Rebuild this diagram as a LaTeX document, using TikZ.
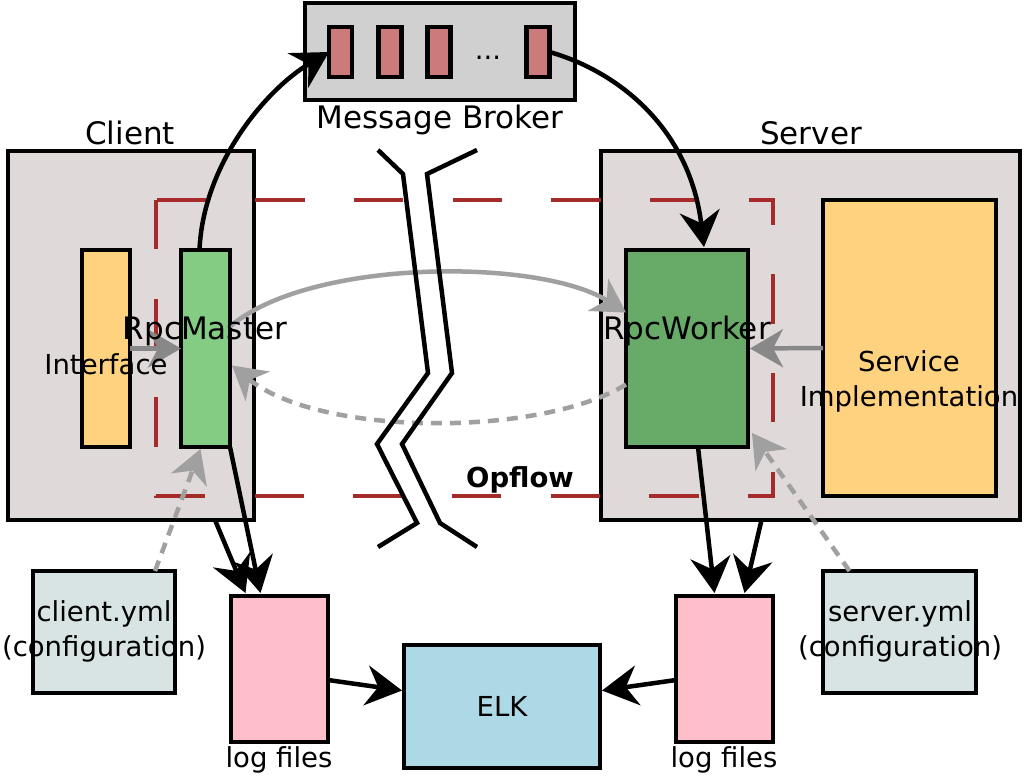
\documentclass[tikz,border=0pt]{standalone}
\usepackage{fontspec}
\setmainfont{DejaVu Sans}
\usetikzlibrary{arrows.meta}
\definecolor{clientfill}{HTML}{E0D9D9}
\definecolor{brokerfill}{HTML}{D0D0D0}
\definecolor{slotfill}{HTML}{CC7A7A}
\definecolor{orangefill}{HTML}{FFD27F}
\definecolor{mastergreen}{HTML}{84CB84}
\definecolor{workergreen}{HTML}{68AB68}
\definecolor{ymlfill}{HTML}{D8E4E4}
\definecolor{logfill}{HTML}{FFBFCA}
\definecolor{elkfill}{HTML}{ADD8E6}
\definecolor{dashred}{HTML}{A52A2A}
\definecolor{grayA}{HTML}{A0A0A0}
\definecolor{grayB}{HTML}{888888}
\tikzset{
  box/.style={draw=black, line width=4.5pt, rectangle, inner sep=0pt, outer sep=0pt},
  bigtxt/.style={font=\fontsize{31}{37}\selectfont, inner sep=0pt},
  smalltxt/.style={font=\fontsize{27.5}{35}\selectfont, inner sep=0pt, align=center},
  blk/.style={line width=4.5pt, -{Stealth[length=36pt,width=40pt,inset=12pt]}},
  gry/.style={line width=4.5pt, draw=grayA, -{Stealth[length=33pt,width=38pt,inset=10pt,fill=grayA]}},
  gryb/.style={line width=4.5pt, draw=grayB, -{Stealth[length=33pt,width=38pt,inset=10pt,fill=grayB]}},
  gryd/.style={gry, dash pattern=on 11pt off 8pt},
  opbox/.style={line width=4.5pt, draw=dashred, dash pattern=on 49.33pt off 49.33pt},
  brk/.style={line width=4.5pt, line join=miter}
}
\begin{document}
\begin{tikzpicture}[x=1pt,y=-1pt]
\useasboundingbox (0,0) rectangle (1024,777);
% outer boxes
\node[box, fill=clientfill, minimum width=246pt, minimum height=369pt] (client) at (131,335.5) {};
\node[box, fill=clientfill, minimum width=419pt, minimum height=369pt] (server) at (810.5,335.5) {};
% Opflow dashed frame
\draw[opbox] (156,200) -- (156,496) -- (773,496) -- (773,200) -- cycle;
% inner boxes
\node[box, fill=orangefill, minimum width=48pt, minimum height=197pt] (interface) at (106,348.5) {};
\node[box, fill=mastergreen, minimum width=49pt, minimum height=197pt] (rpcmaster) at (205.5,348.5) {};
\node[box, fill=workergreen, minimum width=122pt, minimum height=197pt] (rpcworker) at (687,348.5) {};
\node[box, fill=orangefill, minimum width=173pt, minimum height=296pt] (service) at (909.5,348) {};
% broker
\node[box, fill=brokerfill, minimum width=270pt, minimum height=97pt] (broker) at (440,51.5) {};
\node[box, fill=slotfill, minimum width=23pt, minimum height=50pt] (slot1) at (340.5,52) {};
\node[box, fill=slotfill, minimum width=23pt, minimum height=50pt] (slot2) at (390,52) {};
\node[box, fill=slotfill, minimum width=23pt, minimum height=50pt] (slot3) at (439,52) {};
\node[box, fill=slotfill, minimum width=23pt, minimum height=50pt] (slot4) at (538,52) {};
% bottom boxes
\node[box, fill=ymlfill, minimum width=142pt, minimum height=122pt] (clientyml) at (104,632) {};
\node[box, fill=ymlfill, minimum width=153pt, minimum height=122pt] (serveryml) at (899.5,632) {};
\node[box, fill=logfill, minimum width=97pt, minimum height=146pt] (logL) at (279.5,669) {};
\node[box, fill=logfill, minimum width=97pt, minimum height=146pt] (logR) at (724.5,669) {};
\node[box, fill=elkfill, minimum width=196pt, minimum height=123pt] (elk) at (502,706.5) {};
% connectors
\draw[blk] ([xshift=-6pt]rpcmaster.north) .. controls (203,165) and (265,90) .. (slot1.west);
\draw[blk] (slot4.east) .. controls (620,72) and (690,130) .. ([xshift=17pt,yshift=3pt]rpcworker.north);
\draw[gry] ([yshift=22pt]rpcmaster.east) .. controls (310,258) and (540,258) .. ([yshift=36pt]rpcworker.west);
\draw[gryd] ([yshift=-36pt]rpcworker.west) .. controls (540,437) and (320,437) .. ([xshift=2pt,yshift=-17pt]rpcmaster.east);
\draw[gryb] (interface.east) -- (rpcmaster.west);
\draw[gryb] (service.west) -- ([xshift=2pt]rpcworker.east);
\draw[gryd] ([xshift=51pt]clientyml.north) -- ([xshift=-5pt,yshift=-2pt]rpcmaster.south);
\draw[gryd] ([xshift=-50pt]serveryml.north) -- ([xshift=4pt,yshift=14pt]rpcworker.south east);
\draw[blk] ([xshift=84pt]client.south) -- ([xshift=-34pt,yshift=3pt]logL.north);
\draw[blk] (rpcmaster.south east) -- ([xshift=-19pt,yshift=3pt]logL.north);
\draw[blk] ([xshift=11pt]rpcworker.south) -- ([xshift=-10pt,yshift=3pt]logR.north);
\draw[blk] ([xshift=-49pt]server.south) -- ([xshift=20pt,yshift=3pt]logR.north);
\draw[blk] ([yshift=-11pt]logL.east) -- ([xshift=-2pt,yshift=16pt]elk.west);
\draw[blk] ([yshift=-11pt]logR.west) -- ([xshift=2pt,yshift=16pt]elk.east);
% break marks
\draw[brk] (378,150) -- (403,174) -- (428,373) -- (377,444) -- (417,523) -- (378,547);
\draw[brk] (477,150) -- (427,174) -- (452,373) -- (402,444) -- (440,523) -- (477,547);
% labels
\node[bigtxt] (lclient) at (130,133) {Client};
\node[bigtxt] (lserver) at (811,133) {Server};
\node[bigtxt] (lbroker) at (440,120) {Message Broker};
\node[smalltxt] (ldots) at (488,58) {...};
\node[bigtxt] (lmaster) at (205,331) {RpcMaster};
\node[smalltxt] (linterface) at (106,364) {Interface};
\node[bigtxt] (lworker) at (687,331) {RpcWorker};
\node[smalltxt] (lservice) at (909,381.5) {Service\\Implementation};
\node[smalltxt, font=\fontsize{27.5}{35}\selectfont\bfseries] (lopflow) at (520,480) {Opflow};
\node[smalltxt] (lcyml) at (104,631.5) {client.yml\\(configuration)};
\node[smalltxt] (lsyml) at (900,631.5) {server.yml\\(configuration)};
\node[smalltxt] (llogL) at (279,760) {log files};
\node[smalltxt] (llogR) at (724,760) {log files};
\node[smalltxt] (lelk) at (502,706) {ELK};
\end{tikzpicture}
\end{document}
